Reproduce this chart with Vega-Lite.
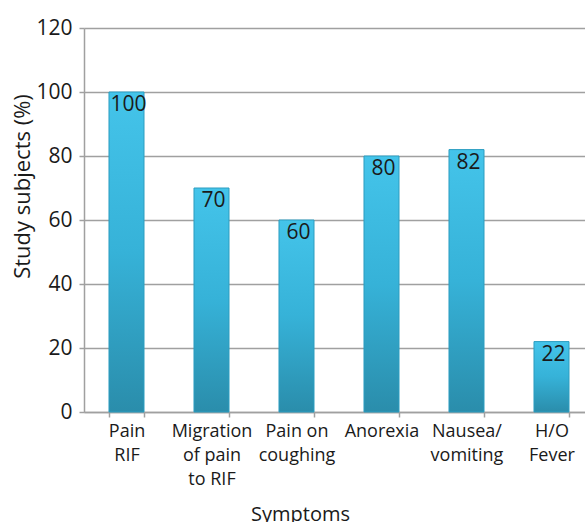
{
  "$schema": "https://vega.github.io/schema/vega-lite/v6.json",
  "autosize": "none",
  "padding": {"left": 84, "top": 28, "right": 0, "bottom": 110},
  "width": 510,
  "height": 384,
  "background": "white",
  "config": {"view": {"stroke": null}, "font": "Open Sans"},
  "data": {"values": [
    {"symptom": "Pain|RIF", "pct": 100},
    {"symptom": "Migration|of pain|to RIF", "pct": 70},
    {"symptom": "Pain on|coughing", "pct": 60},
    {"symptom": "Anorexia", "pct": 80},
    {"symptom": "Nausea/|vomiting", "pct": 82},
    {"symptom": "H/O|Fever", "pct": 22}
  ]},
  "encoding": {
    "x": {
      "field": "symptom", "type": "nominal", "sort": null,
      "scale": {"paddingInner": 0.588, "paddingOuter": 0.294},
      "axis": {
        "title": "Symptoms", "titleFontSize": 20, "titleFontWeight": "normal", "titleColor": "#1a1a1a",
        "titleX": 216, "titleY": 102, "titleBaseline": "middle", "titleAnchor": null,
        "labelExpr": "datum.value ? split(datum.value, '|') : ''", "labelAngle": 0, "labelFontSize": 18, "labelLineHeight": 24,
        "labelColor": "#1a1a1a", "labelPadding": 5, "tickSize": 5, "tickBand": "extent",
        "tickColor": "#a0a0a0", "domainColor": "#a0a0a0", "domainWidth": 1.5, "tickWidth": 1.5
      }
    },
    "y": {
      "field": "pct", "type": "quantitative",
      "scale": {"domain": [0, 120], "nice": false},
      "axis": {
        "title": "Study subjects (%)", "titleFontSize": 22, "titleFontWeight": "normal", "titleColor": "#1a1a1a",
        "titleX": -62, "titleY": 158, "titleAngle": -90, "titleBaseline": "middle", "titleAlign": "center", "titleAnchor": null,
        "values": [0, 20, 40, 60, 80, 100, 120], "labelFontSize": 21, "labelColor": "#1a1a1a",
        "labelPadding": 7, "tickSize": 5, "tickColor": "#a0a0a0", "tickWidth": 1.5,
        "domainColor": "#a0a0a0", "domainWidth": 1.5,
        "grid": true, "gridColor": "#a0a0a0", "gridWidth": 1.5
      }
    }
  },
  "layer": [
    {
      "mark": {
        "type": "bar",
        "color": {"gradient": "linear", "x1": 0, "y1": 0, "x2": 0, "y2": 1,
          "stops": [{"offset": 0, "color": "#44c4ea"}, {"offset": 0.5, "color": "#36b2d8"}, {"offset": 1, "color": "#2a8dab"}]},
        "stroke": "#2c9dc0", "strokeWidth": 1
      }
    },
    {
      "mark": {"type": "text", "baseline": "alphabetic", "align": "center", "dy": 19, "dx": 2, "fontSize": 21, "color": "#1a1a1a"},
      "encoding": {"text": {"field": "pct", "type": "quantitative"}}
    }
  ]
}
